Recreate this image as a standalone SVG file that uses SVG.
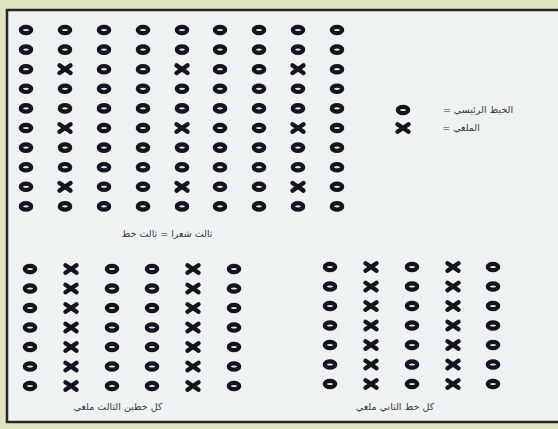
<svg xmlns="http://www.w3.org/2000/svg" xmlns:xlink="http://www.w3.org/1999/xlink" width="558" height="429" viewBox="0 0 558 429">
<style>
.lbl{font-family:"DejaVu Sans","Noto Sans",sans-serif;font-size:9.5px;fill:#3a3a3a;direction:rtl;text-anchor:middle}
</style>
<defs>
<g id="o"><ellipse cx="0" cy="0" rx="5.2" ry="3.2" fill="#dde6ea" stroke="#14141e" stroke-width="4.2"/></g>
<g id="x"><path d="M-5.5,-3.8 L5.5,3.8 M-5.5,3.8 L5.5,-3.8" fill="none" stroke="#14141e" stroke-width="4.4" stroke-linecap="round"/></g>
</defs>
<rect x="0" y="0" width="558" height="429" fill="#dfe2c3"/>
<rect x="7" y="10" width="560" height="412" fill="#eef2f3" stroke="#262626" stroke-width="2.5"/>
<g id="grid-main">
<use href="#o" x="26" y="30"/><use href="#o" x="65" y="30"/><use href="#o" x="104" y="30"/><use href="#o" x="143" y="30"/><use href="#o" x="182" y="30"/><use href="#o" x="220" y="30"/><use href="#o" x="259" y="30"/><use href="#o" x="298" y="30"/><use href="#o" x="337" y="30"/>
<use href="#o" x="26" y="49.6"/><use href="#o" x="65" y="49.6"/><use href="#o" x="104" y="49.6"/><use href="#o" x="143" y="49.6"/><use href="#o" x="182" y="49.6"/><use href="#o" x="220" y="49.6"/><use href="#o" x="259" y="49.6"/><use href="#o" x="298" y="49.6"/><use href="#o" x="337" y="49.6"/>
<use href="#o" x="26" y="69.2"/><use href="#x" x="65" y="69.2"/><use href="#o" x="104" y="69.2"/><use href="#o" x="143" y="69.2"/><use href="#x" x="182" y="69.2"/><use href="#o" x="220" y="69.2"/><use href="#o" x="259" y="69.2"/><use href="#x" x="298" y="69.2"/><use href="#o" x="337" y="69.2"/>
<use href="#o" x="26" y="88.8"/><use href="#o" x="65" y="88.8"/><use href="#o" x="104" y="88.8"/><use href="#o" x="143" y="88.8"/><use href="#o" x="182" y="88.8"/><use href="#o" x="220" y="88.8"/><use href="#o" x="259" y="88.8"/><use href="#o" x="298" y="88.8"/><use href="#o" x="337" y="88.8"/>
<use href="#o" x="26" y="108.4"/><use href="#o" x="65" y="108.4"/><use href="#o" x="104" y="108.4"/><use href="#o" x="143" y="108.4"/><use href="#o" x="182" y="108.4"/><use href="#o" x="220" y="108.4"/><use href="#o" x="259" y="108.4"/><use href="#o" x="298" y="108.4"/><use href="#o" x="337" y="108.4"/>
<use href="#o" x="26" y="128"/><use href="#x" x="65" y="128"/><use href="#o" x="104" y="128"/><use href="#o" x="143" y="128"/><use href="#x" x="182" y="128"/><use href="#o" x="220" y="128"/><use href="#o" x="259" y="128"/><use href="#x" x="298" y="128"/><use href="#o" x="337" y="128"/>
<use href="#o" x="26" y="147.6"/><use href="#o" x="65" y="147.6"/><use href="#o" x="104" y="147.6"/><use href="#o" x="143" y="147.6"/><use href="#o" x="182" y="147.6"/><use href="#o" x="220" y="147.6"/><use href="#o" x="259" y="147.6"/><use href="#o" x="298" y="147.6"/><use href="#o" x="337" y="147.6"/>
<use href="#o" x="26" y="167.2"/><use href="#o" x="65" y="167.2"/><use href="#o" x="104" y="167.2"/><use href="#o" x="143" y="167.2"/><use href="#o" x="182" y="167.2"/><use href="#o" x="220" y="167.2"/><use href="#o" x="259" y="167.2"/><use href="#o" x="298" y="167.2"/><use href="#o" x="337" y="167.2"/>
<use href="#o" x="26" y="186.8"/><use href="#x" x="65" y="186.8"/><use href="#o" x="104" y="186.8"/><use href="#o" x="143" y="186.8"/><use href="#x" x="182" y="186.8"/><use href="#o" x="220" y="186.8"/><use href="#o" x="259" y="186.8"/><use href="#x" x="298" y="186.8"/><use href="#o" x="337" y="186.8"/>
<use href="#o" x="26" y="206.4"/><use href="#o" x="65" y="206.4"/><use href="#o" x="104" y="206.4"/><use href="#o" x="143" y="206.4"/><use href="#o" x="182" y="206.4"/><use href="#o" x="220" y="206.4"/><use href="#o" x="259" y="206.4"/><use href="#o" x="298" y="206.4"/><use href="#o" x="337" y="206.4"/>
<text class="lbl" x="167" y="237">ثالث شعرا = ثالث خط</text>
</g>
<g id="legend">
<use href="#o" x="403" y="110"/>
<text class="lbl" x="478" y="113">الخيط الرئيسي =</text>
<use href="#x" x="403" y="128"/>
<text class="lbl" x="461" y="131">الملغي =</text>
</g>
<g id="grid-left">
<use href="#o" x="30" y="269"/><use href="#x" x="71" y="269"/><use href="#o" x="112" y="269"/><use href="#o" x="152" y="269"/><use href="#x" x="193" y="269"/><use href="#o" x="234" y="269"/>
<use href="#o" x="30" y="288.5"/><use href="#x" x="71" y="288.5"/><use href="#o" x="112" y="288.5"/><use href="#o" x="152" y="288.5"/><use href="#x" x="193" y="288.5"/><use href="#o" x="234" y="288.5"/>
<use href="#o" x="30" y="308"/><use href="#x" x="71" y="308"/><use href="#o" x="112" y="308"/><use href="#o" x="152" y="308"/><use href="#x" x="193" y="308"/><use href="#o" x="234" y="308"/>
<use href="#o" x="30" y="327.5"/><use href="#x" x="71" y="327.5"/><use href="#o" x="112" y="327.5"/><use href="#o" x="152" y="327.5"/><use href="#x" x="193" y="327.5"/><use href="#o" x="234" y="327.5"/>
<use href="#o" x="30" y="347"/><use href="#x" x="71" y="347"/><use href="#o" x="112" y="347"/><use href="#o" x="152" y="347"/><use href="#x" x="193" y="347"/><use href="#o" x="234" y="347"/>
<use href="#o" x="30" y="366.5"/><use href="#x" x="71" y="366.5"/><use href="#o" x="112" y="366.5"/><use href="#o" x="152" y="366.5"/><use href="#x" x="193" y="366.5"/><use href="#o" x="234" y="366.5"/>
<use href="#o" x="30" y="386"/><use href="#x" x="71" y="386"/><use href="#o" x="112" y="386"/><use href="#o" x="152" y="386"/><use href="#x" x="193" y="386"/><use href="#o" x="234" y="386"/>
<text class="lbl" x="118" y="410">كل خطين الثالث ملغي</text>
</g>
<g id="grid-right">
<use href="#o" x="330" y="267"/><use href="#x" x="371" y="267"/><use href="#o" x="412" y="267"/><use href="#x" x="453" y="267"/><use href="#o" x="493" y="267"/>
<use href="#o" x="330" y="286.5"/><use href="#x" x="371" y="286.5"/><use href="#o" x="412" y="286.5"/><use href="#x" x="453" y="286.5"/><use href="#o" x="493" y="286.5"/>
<use href="#o" x="330" y="306"/><use href="#x" x="371" y="306"/><use href="#o" x="412" y="306"/><use href="#x" x="453" y="306"/><use href="#o" x="493" y="306"/>
<use href="#o" x="330" y="325.5"/><use href="#x" x="371" y="325.5"/><use href="#o" x="412" y="325.5"/><use href="#x" x="453" y="325.5"/><use href="#o" x="493" y="325.5"/>
<use href="#o" x="330" y="345"/><use href="#x" x="371" y="345"/><use href="#o" x="412" y="345"/><use href="#x" x="453" y="345"/><use href="#o" x="493" y="345"/>
<use href="#o" x="330" y="364.5"/><use href="#x" x="371" y="364.5"/><use href="#o" x="412" y="364.5"/><use href="#x" x="453" y="364.5"/><use href="#o" x="493" y="364.5"/>
<use href="#o" x="330" y="384"/><use href="#x" x="371" y="384"/><use href="#o" x="412" y="384"/><use href="#x" x="453" y="384"/><use href="#o" x="493" y="384"/>
<text class="lbl" x="395" y="410">كل خط الثاني ملغي</text>
</g>
</svg>
